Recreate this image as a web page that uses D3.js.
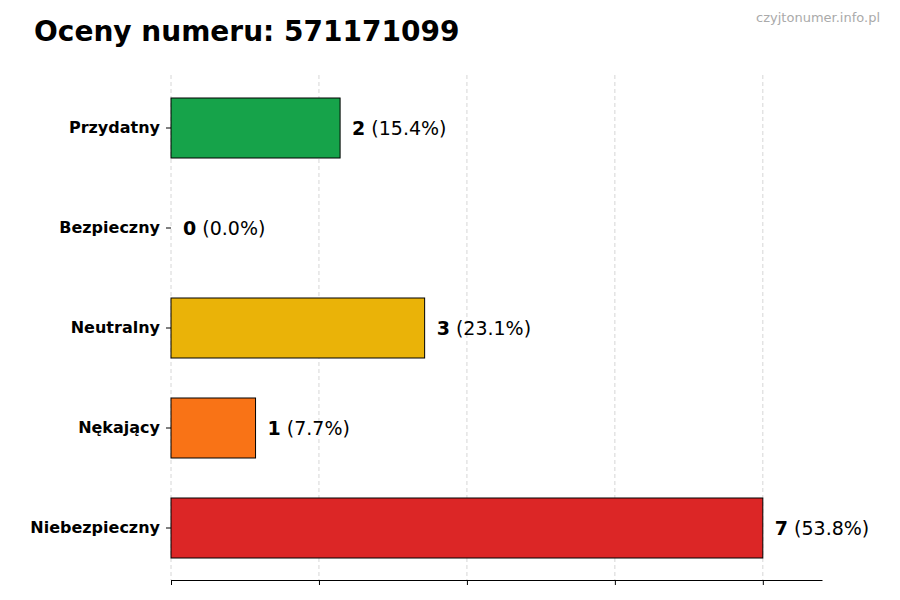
<!DOCTYPE html>
<html><head><meta charset="utf-8">
<script src="https://cdn.jsdelivr.net/npm/d3@7"></script>
<style>body{margin:0;background:#fff;font-family:"DejaVu Sans",sans-serif}</style>
</head><body><svg id="c" width="900" height="600"></svg>
<script>
const categories=["Przydatny","Bezpieczny","Neutralny","Nękający","Niebezpieczny"];
const values=[2,0,3,1,7];
const percents=["15.4%","0.0%","23.1%","7.7%","53.8%"];
const colors=["#16a34a","#6b7280","#eab308","#f97316","#dc2626"];
const gridTicks=[0,1.75,3.5,5.25,7];

const svg=d3.select("#c");
const x=d3.scaleLinear().domain([0,7.7]).range([171,822]);
const y=d3.scaleBand().domain(categories).range([78,578]).paddingInner(0.4).paddingOuter(0.2);

svg.append("g").selectAll("line").data(gridTicks).join("line")
 .attr("x1",d=>x(d)).attr("x2",d=>x(d)).attr("y1",75).attr("y2",580)
 .attr("stroke","#ccc").attr("stroke-dasharray","4,3").attr("stroke-width",0.8);

svg.append("g").selectAll("rect").data(values).join("rect")
 .attr("x",x(0)).attr("y",(d,i)=>y(categories[i])).attr("height",y.bandwidth())
 .attr("width",d=>x(d)-x(0)).attr("fill",(d,i)=>colors[i]).attr("stroke","#000").attr("stroke-width",1);

const ax=svg.append("g").attr("transform","translate(0,580)")
 .call(d3.axisBottom(x).tickValues(gridTicks).tickFormat("").tickSize(5).tickSizeOuter(0));
ax.select(".domain").attr("stroke","#000");

const ay=svg.append("g").attr("transform",`translate(${x(0)},0)`)
 .call(d3.axisLeft(y).tickSize(5).tickPadding(6));
ay.select(".domain").remove();
ay.selectAll("text").attr("font-size",16).attr("font-weight","bold").attr("fill","#000").attr("font-family","DejaVu Sans");

const lab=svg.append("g").selectAll("text").data(values).join("text")
 .attr("x",d=>x(d)+12).attr("y",(d,i)=>y(categories[i])+y.bandwidth()/2).attr("dy","0.35em")
 .attr("font-size",19).attr("font-family","DejaVu Sans");
lab.append("tspan").attr("font-weight","bold").text(d=>d);
lab.append("tspan").text((d,i)=>" ("+percents[i]+")");

svg.append("text").attr("x",34).attr("y",41).attr("font-size",28).attr("font-weight","bold").text("Oceny numeru: 571171099");
svg.append("text").attr("x",880).attr("y",22).attr("text-anchor","end").attr("font-size",13).attr("fill","#aaa").text("czyjtonumer.info.pl");
</script></body></html>
